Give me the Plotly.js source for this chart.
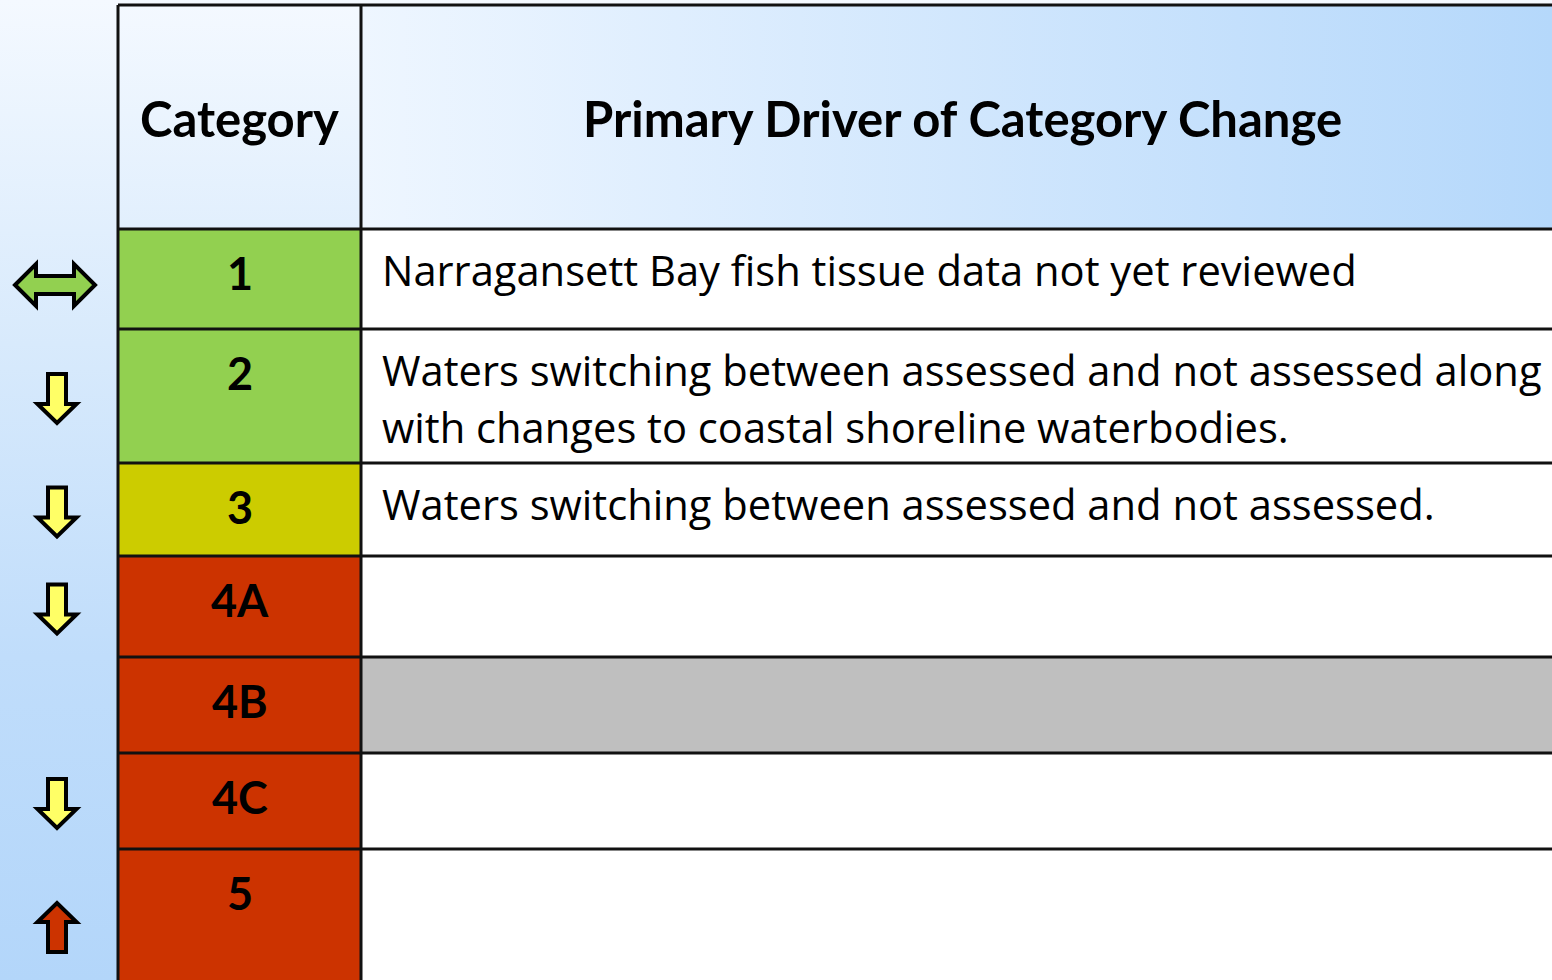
<!DOCTYPE html>
<html>
<head>
<meta charset="utf-8">
<script src="https://cdn.plot.ly/plotly-3.0.1.min.js"></script>
<style>
  html, body { margin: 0; padding: 0; background: #ffffff; }
  #chart { width: 1552px; height: 980px; }
</style>
</head>
<body>
<div id="chart"></div>
<script>
// ---------------- DATA ----------------
const headers = ['Category', 'Primary Driver of Category Change'];
const categories = ['1', '2', '3', '4A', '4B', '4C', '5'];
const drivers = [
  ['Narragansett Bay fish tissue data not yet reviewed'],
  ['Waters switching between assessed and not assessed along',
   'with changes to coastal shoreline waterbodies.'],
  ['Waters switching between assessed and not assessed.'],
  [],
  [],
  [],
  []
];
const trends = ['both', 'down', 'down', 'down', 'none', 'down', 'up'];
const notApplicable = [false, false, false, false, true, false, false];

// ---------------- STYLE / LAYOUT ----------------
const W = 1552, H = 980;
const tableLeft = 118, colSplit = 361, tableRight = 1563, tableTop = 5, headerBottom = 229;
const rowHeights = [100, 134, 93, 101, 96, 96, 150];
const catColors = { '1': '#92d050', '2': '#92d050', '3': '#cccc00', '4A': '#cc3300', '4B': '#cc3300', '4C': '#cc3300', '5': '#cc3300' };
const trendFill = { both: '#92d050', down: '#ffff66', up: '#cc3300' };
const HEAD_FONT = 'Lato, "Open Sans", sans-serif';
const BODY_FONT = '"Open Sans", Lato, sans-serif';
const borderColor = '#111111', borderW = 3;

const rowTops = [];
let acc = headerBottom;
rowHeights.forEach(h => { rowTops.push(acc); acc += h; });
const rowBottoms = rowTops.map((t, i) => t + rowHeights[i]);

const traces = [];
// slide background: vertical gradient
traces.push({
  type: 'scatter', x: [0, W, W, 0, 0], y: [0, 0, H, H, 0], mode: 'none', fill: 'toself',
  fillgradient: { type: 'vertical', start: 0, stop: H,
    colorscale: [[0, '#f4f9ff'], [0.35, '#d8eafc'], [0.67, '#c0ddfb'], [1, '#b3d6fa']] },
  hoverinfo: 'skip', showlegend: false
});
// header (second column) horizontal gradient
traces.push({
  type: 'scatter', x: [colSplit, tableRight, tableRight, colSplit, colSplit],
  y: [tableTop, tableTop, headerBottom, headerBottom, tableTop], mode: 'none', fill: 'toself',
  fillgradient: { type: 'horizontal', start: colSplit, stop: W,
    colorscale: [[0, '#eef6ff'], [1, '#b5d8fb']] },
  hoverinfo: 'skip', showlegend: false
});

const shapes = [];
const annotations = [];

// body cells
categories.forEach((c, i) => {
  const extra = (i === categories.length - 1) ? 40 : 0;
  shapes.push({ type: 'rect', xref: 'x', yref: 'y', x0: tableLeft, x1: colSplit, y0: rowTops[i], y1: rowBottoms[i] + extra,
    fillcolor: catColors[c], line: { width: 0 } });
  shapes.push({ type: 'rect', xref: 'x', yref: 'y', x0: colSplit, x1: tableRight, y0: rowTops[i], y1: rowBottoms[i] + extra,
    fillcolor: notApplicable[i] ? '#bfbfbf' : '#ffffff', line: { width: 0 } });
});

// borders
const hLines = [tableTop, headerBottom].concat(rowBottoms.slice(0, -1));
hLines.forEach(y => shapes.push({ type: 'line', xref: 'x', yref: 'y', x0: tableLeft, x1: tableRight, y0: y, y1: y,
  line: { color: borderColor, width: borderW } }));
[tableLeft, colSplit].forEach(x => shapes.push({ type: 'line', xref: 'x', yref: 'y', x0: x, x1: x, y0: tableTop, y1: H + 20,
  line: { color: borderColor, width: borderW } }));

// arrows
function arrowPath(kind, cx, cy) {
  let p;
  if (kind === 'down') {
    p = [[-9, -25], [9, -25], [9, 5], [19.5, 5], [0, 24], [-19.5, 5], [-9, 5]];
  } else if (kind === 'up') {
    p = [[-9, 25], [9, 25], [9, -5], [19.5, -5], [0, -24], [-19.5, -5], [-9, -5]];
  } else {
    p = [[-40, 0], [-19, -21], [-19, -9], [19, -9], [19, -21], [40, 0], [19, 21], [19, 9], [-19, 9], [-19, 21]];
  }
  return 'M' + p.map(q => (cx + q[0]) + ',' + (cy + q[1])).join(' L') + ' Z';
}
trends.forEach((t, i) => {
  if (t === 'none') return;
  const cy = (rowTops[i] + rowBottoms[i]) / 2 + (t === 'both' ? 6 : 3);
  shapes.push({ type: 'path', xref: 'x', yref: 'y', path: arrowPath(t, t === 'both' ? 55 : 57, cy),
    fillcolor: trendFill[t], line: { color: '#000000', width: 4 } });
});

// header text
annotations.push({ x: (tableLeft + colSplit) / 2, y: 118, xref: 'x', yref: 'y', text: headers[0], showarrow: false,
  xanchor: 'center', yanchor: 'middle', font: { family: HEAD_FONT, size: 49, weight: 700, color: '#000' } });
annotations.push({ x: (colSplit + tableRight) / 2, y: 118, xref: 'x', yref: 'y', text: headers[1], showarrow: false,
  xanchor: 'center', yanchor: 'middle', font: { family: HEAD_FONT, size: 49, weight: 700, color: '#000' } });

// body text
categories.forEach((c, i) => {
  annotations.push({ x: (tableLeft + colSplit) / 2, y: rowTops[i] + 44, xref: 'x', yref: 'y', text: c, showarrow: false,
    xanchor: 'center', yanchor: 'middle', font: { family: HEAD_FONT, size: 45, weight: 700, color: '#000' } });
  drivers[i].forEach((line, k) => {
    annotations.push({ x: 380, y: rowTops[i] + 40 + k * 57, xref: 'x', yref: 'y', text: line, showarrow: false,
      xanchor: 'left', yanchor: 'middle', font: { family: BODY_FONT, size: 41.7, color: '#000' } });
  });
});

const layout = {
  width: W, height: H, margin: { l: 0, r: 0, t: 0, b: 0, pad: 0 },
  paper_bgcolor: 'rgba(0,0,0,0)', plot_bgcolor: 'rgba(0,0,0,0)',
  xaxis: { range: [0, W], visible: false, fixedrange: true },
  yaxis: { range: [H, 0], visible: false, fixedrange: true },
  showlegend: false, shapes: shapes, annotations: annotations
};

Plotly.newPlot('chart', traces, layout, { staticPlot: true, displayModeBar: false });
</script>
</body>
</html>
